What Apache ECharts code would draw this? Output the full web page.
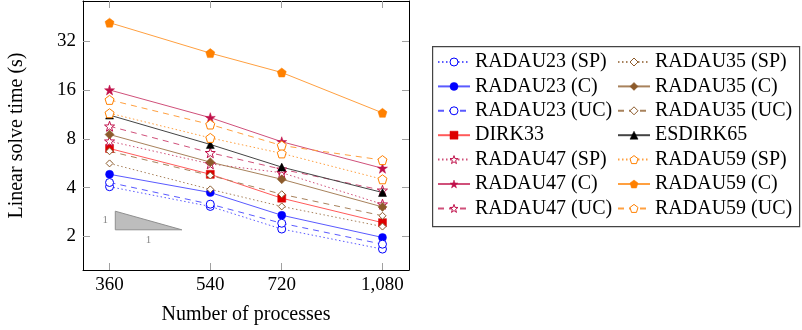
<!DOCTYPE html>
<html>
<head>
<meta charset="utf-8">
<script src="https://cdn.jsdelivr.net/npm/echarts@6/dist/echarts.min.js"></script>
<style>
  html, body { margin: 0; padding: 0; background: #fff; }
  #chart { width: 802px; height: 330px; }
</style>
</head>
<body>
<div id="chart"></div>
<script>
// x: number of processes, y: linear solve time (s)
const processes = [360, 540, 720, 1080];
const yTicks = [2, 4, 8, 16, 32];

const radau23SP = [4.05, 3.06, 2.22, 1.67];
const radau23C  = [4.83, 3.73, 2.70, 1.97];
const radau23UC = [4.30, 3.16, 2.41, 1.79];
const dirk33    = [6.97, 4.83, 3.44, 2.43];
const radau47SP = [7.73, 5.60, 4.94, 3.16];
const radau47C  = [16.0, 10.8, 7.67, 5.26];
const radau47UC = [9.56, 6.56, 5.19, 3.85];
const radau35SP = [5.64, 3.90, 3.06, 2.30];
const radau35C  = [8.50, 5.74, 4.50, 3.04];
const radau35UC = [6.70, 4.75, 3.64, 2.68];
const esdirk65  = [11.2, 7.38, 5.35, 3.73];
const radau59SP = [11.5, 8.10, 6.50, 4.50];
const radau59C  = [41.6, 27.0, 20.5, 11.56];
const radau59UC = [13.9, 9.80, 7.27, 5.91];

// slope triangle corners (processes, seconds)
const slopeX = [368.4, 481.5];
const slopeY = [2.196, 2.86];

const FONT = 'Liberation Serif';
const STAR = 'path://M0,-10L2.35,-3.24L9.51,-3.09L3.8,1.24L5.88,8.09L0,4L-5.88,8.09L-3.8,1.24L-9.51,-3.09L-2.35,-3.24Z';
const PENTA = 'path://M0,-10L9.51,-3.09L5.88,8.09L-5.88,8.09L-9.51,-3.09Z';

const DOTTED = [1.5, 2.5];
const DASHED = [6, 5];

function markerStyle(color, variant) {
  return variant === 'C'
    ? { color: color, borderColor: color, borderWidth: 0.5 }
    : { color: '#fff', borderColor: color, borderWidth: 1 };
}

function makeSeries(name, values, color, lineColor, symbol, variant, size) {
  return {
    name: name,
    type: 'line',
    data: processes.map((p, i) => [Math.log10(p), Math.log2(values[i])]),
    symbol: symbol,
    symbolSize: size || 8,
    showSymbol: true,
    animation: false,
    z: 3,
    itemStyle: markerStyle(color, variant),
    lineStyle: {
      color: lineColor,
      width: 1,
      type: variant === 'SP' ? DOTTED : (variant === 'UC' ? DASHED : 'solid')
    },
    emphasis: { disabled: true },
    _variant: variant,
    _color: color
  };
}

const blue = '#0000ff', blueL = '#5a5aff';
const red = '#dd0000', redL = '#ff5a5a';
const brown = '#8c5a2b', brownL = '#a8825c';
const black = '#000000', blackL = '#444444';
const purple = '#c0104a', purpleL = '#d0507a';
const orange = '#ff8000', orangeL = '#ffa040';

const lineSeries = [
  makeSeries('RADAU23 (SP)', radau23SP, blue, blueL, 'circle', 'SP'),
  makeSeries('RADAU23 (C)', radau23C, blue, blueL, 'circle', 'C'),
  makeSeries('RADAU23 (UC)', radau23UC, blue, blueL, 'circle', 'UC'),
  makeSeries('DIRK33', dirk33, red, redL, 'rect', 'C'),
  makeSeries('RADAU47 (SP)', radau47SP, purple, purpleL, STAR, 'SP', 10),
  makeSeries('RADAU47 (C)', radau47C, purple, purpleL, STAR, 'C', 10),
  makeSeries('RADAU47 (UC)', radau47UC, purple, purpleL, STAR, 'UC', 10),
  makeSeries('RADAU35 (SP)', radau35SP, brown, brownL, 'diamond', 'SP', 7),
  makeSeries('RADAU35 (C)', radau35C, brown, brownL, 'diamond', 'C', 9),
  makeSeries('RADAU35 (UC)', radau35UC, brown, brownL, 'diamond', 'UC', 7),
  makeSeries('ESDIRK65', esdirk65, black, blackL, 'triangle', 'C'),
  makeSeries('RADAU59 (SP)', radau59SP, orange, orangeL, PENTA, 'SP', 9),
  makeSeries('RADAU59 (C)', radau59C, orange, orangeL, PENTA, 'C', 9),
  makeSeries('RADAU59 (UC)', radau59UC, orange, orangeL, PENTA, 'UC', 9)
];

const legendItem = s => ({ name: s.name, itemStyle: markerStyle(s._color, s._variant) });
const leftItems = lineSeries.slice(0, 7).map(legendItem);
const rightItems = lineSeries.slice(7).map(legendItem);
lineSeries.forEach(s => { delete s._variant; delete s._color; });

const xTickVals = processes.map(Math.log10);
const yTickVals = yTicks.map(Math.log2);
const xMin = Math.log10(323.5), xMax = Math.log10(1201.7);
const yMin = Math.log2(1.241), yMax = Math.log2(56.6);

const tickStyle = { inside: true, length: 7, lineStyle: { color: '#a0a0a0', width: 1 } };
const frameLine = { show: true, lineStyle: { color: '#000', width: 1 } };

function xAxisDef(pos, labels) {
  return {
    type: 'value', position: pos, min: xMin, max: xMax,
    axisLine: frameLine,
    axisTick: Object.assign({ customValues: xTickVals }, tickStyle),
    axisLabel: {
      show: labels, customValues: xTickVals, margin: 6,
      fontFamily: FONT, fontSize: 19, color: '#000',
      formatter: v => Math.round(Math.pow(10, v)).toLocaleString('en-US')
    },
    splitLine: { show: false },
    name: labels ? 'Number of processes' : '',
    nameLocation: 'middle', nameGap: 35,
    nameTextStyle: { fontFamily: FONT, fontSize: 20, color: '#000' }
  };
}

function yAxisDef(pos, labels) {
  return {
    type: 'value', position: pos, min: yMin, max: yMax,
    axisLine: frameLine,
    axisTick: Object.assign({ customValues: yTickVals }, tickStyle),
    axisLabel: {
      show: labels, customValues: yTickVals, margin: 7,
      fontFamily: FONT, fontSize: 19, color: '#000',
      formatter: v => String(Math.round(Math.pow(2, v)))
    },
    splitLine: { show: false },
    name: labels ? 'Linear solve time (s)' : '',
    nameLocation: 'middle', nameGap: 56,
    nameTextStyle: { fontFamily: FONT, fontSize: 20, color: '#000' }
  };
}

const triangleSeries = {
  type: 'custom',
  silent: true,
  animation: false,
  z: 1,
  data: [[Math.log10(slopeX[0]), Math.log2(slopeY[0]), Math.log10(slopeX[1]), Math.log2(slopeY[1])]],
  encode: { x: [0, 2], y: [1, 3] },
  renderItem: function (params, api) {
    const a = api.coord([api.value(0), api.value(3)]);
    const b = api.coord([api.value(0), api.value(1)]);
    const c = api.coord([api.value(2), api.value(1)]);
    return {
      type: 'group',
      children: [
        { type: 'polygon', shape: { points: [a, b, c] },
          style: { fill: '#bdbdbd', stroke: '#8f8f8f', lineWidth: 1 } },
        { type: 'text', style: { text: '1', x: a[0] - 10, y: (a[1] + b[1]) / 2,
          align: 'center', verticalAlign: 'middle', fill: '#888', fontFamily: FONT, fontSize: 11 } },
        { type: 'text', style: { text: '1', x: (b[0] + c[0]) / 2, y: b[1] + 10,
          align: 'center', verticalAlign: 'middle', fill: '#888', fontFamily: FONT, fontSize: 11 } }
      ]
    };
  }
};

const legendBase = {
  orient: 'vertical',
  top: 52,
  padding: 0,
  itemWidth: 32,
  itemHeight: 10,
  itemGap: 4.4,
  selectedMode: false,
  textStyle: { fontFamily: FONT, fontSize: 20, color: '#000', lineHeight: 20 }
};

const chart = echarts.init(document.getElementById('chart'));
chart.setOption({
  animation: false,
  backgroundColor: '#fff',
  grid: { left: 83, top: 1, width: 326, height: 270 },
  xAxis: [xAxisDef('bottom', true), xAxisDef('top', false)],
  yAxis: [yAxisDef('left', true), yAxisDef('right', false)],
  legend: [
    Object.assign({ left: 437, data: leftItems }, legendBase),
    Object.assign({ left: 617, data: rightItems }, legendBase)
  ],
  graphic: [{
    type: 'rect', left: 432, top: 46, z: -1,
    shape: { width: 367, height: 180 },
    style: { fill: '#fff', stroke: '#444', lineWidth: 1.2 }
  }],
  series: [triangleSeries].concat(lineSeries)
});
</script>
</body>
</html>
